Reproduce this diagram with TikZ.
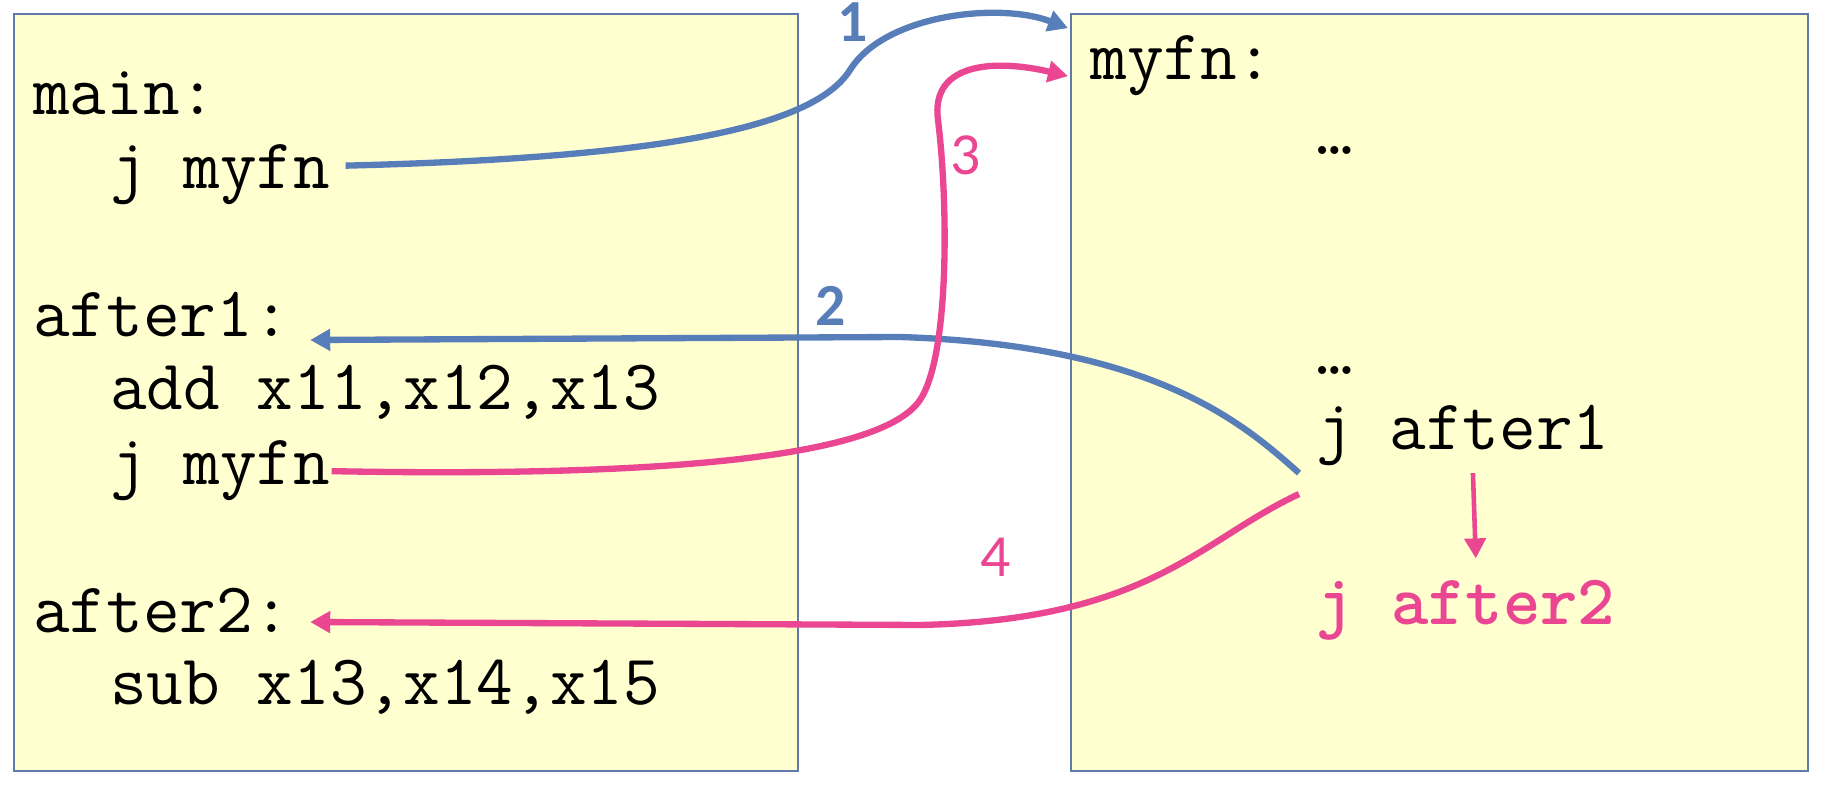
\documentclass[tikz,border=0pt]{standalone}
\usepackage{fontspec}
\usetikzlibrary{arrows.meta, positioning}
\newfontfamily\numfont{Carlito}
\definecolor{jumpblue}{RGB}{88,126,186}
\definecolor{jumppink}{RGB}{234,70,146}
\definecolor{memfill}{RGB}{255,255,208}
\definecolor{memline}{RGB}{96,122,170}

\begin{document}
\begin{tikzpicture}[
            x=0.02cm, y=-0.02cm,
            membox/.style={draw=memline, line width=1pt, fill=memfill},
            code/.style={anchor=base west, inner sep=0pt, font=\fontsize{40.5}{48}\selectfont\ttfamily},
            hot/.style={code, text=jumppink, font=\fontsize{40.5}{48}\selectfont\ttfamily\bfseries},
            bluenum/.style={inner sep=0pt, text=jumpblue, font=\fontsize{34}{40}\selectfont\numfont\bfseries},
            pinknum/.style={inner sep=0pt, text=jumppink, font=\fontsize{34}{40}\selectfont\numfont},
            blueflow/.style={draw=jumpblue, line width=3.6pt, -{Triangle[length=0.4cm, width=0.42cm]}},
            pinkflow/.style={draw=jumppink, line width=3.6pt, -{Triangle[length=0.4cm, width=0.42cm]}}
        ]
        \useasboundingbox (0,0) rectangle (1826,786);
        % Memory boxes
        \draw[membox] (14,14) rectangle (798,771);
        \draw[membox] (1071,14) rectangle (1808,771);
        % Caller (left side)
        \node[code] (main) at (33,115) {main:};
        \node[code] (jmain) at (110,189) {j myfn};
        \node[code] (after1) at (33,337) {after1:};
        \node[code] (add) at (110,410) {add x11,x12,x13};
        \node[code] (jagain) at (110,485) {j myfn};
        \node[code] (after2) at (33,633) {after2:};
        \node[code] (sub) at (110,705) {sub x13,x14,x15};
        % Callee (right side)
        \node[code] (myfn) at (1090,80) {myfn:};
        \node[code] (dots1) at (1316,155) {…};
        \node[code] (dots2) at (1316,375) {…};
        \node[code] (jret) at (1316,450) {j after1};
        \node[hot] (jnext) at (1316,625) {j after2};
        % Jumps
        \draw[blueflow] ([xshift=0.3cm,yshift=0.19cm]jmain.east) .. controls (650,158) and (812,130) .. (850,70)
            .. controls (885,14) and (1000,2) .. ([xshift=-0.44cm,yshift=0.76cm]myfn.west);
        \draw[blueflow] ([xshift=-0.34cm,yshift=-0.13cm]jret.south west) .. controls (1240,420) and (1150,345) .. (900,337)
            -- ([xshift=0.4cm,yshift=-0.06cm]after1.base east);
        \draw[pinkflow] ([xshift=0.02cm]jagain.east) .. controls (700,478) and (885,452) .. (920,400)
            .. controls (950,355) and (948,200) .. (938,120)
            .. controls (930,60) and (1000,60) .. ([xshift=-0.44cm,yshift=-0.2cm]myfn.west);
        \draw[pinkflow] ([xshift=-0.34cm,yshift=-0.55cm]jret.south west) .. controls (1200,540) and (1150,620) .. (920,625)
            -- ([xshift=0.4cm,yshift=0.22cm]after2.base east);
        \draw[pinkflow, line width=2.6pt] ([xshift=0.2cm,yshift=-0.13cm]jret.south)
            -- ([xshift=0.2cm,yshift=0.44cm]jnext.north);
        % Step numbers
        \node[bluenum] (n1) at (853,22) {1};
        \node[bluenum] (n2) at (831,306) {2};
        \node[pinknum] (n3) at (966,155) {3};
        \node[pinknum] (n4) at (996,557) {4};
\end{tikzpicture}
\end{document}
